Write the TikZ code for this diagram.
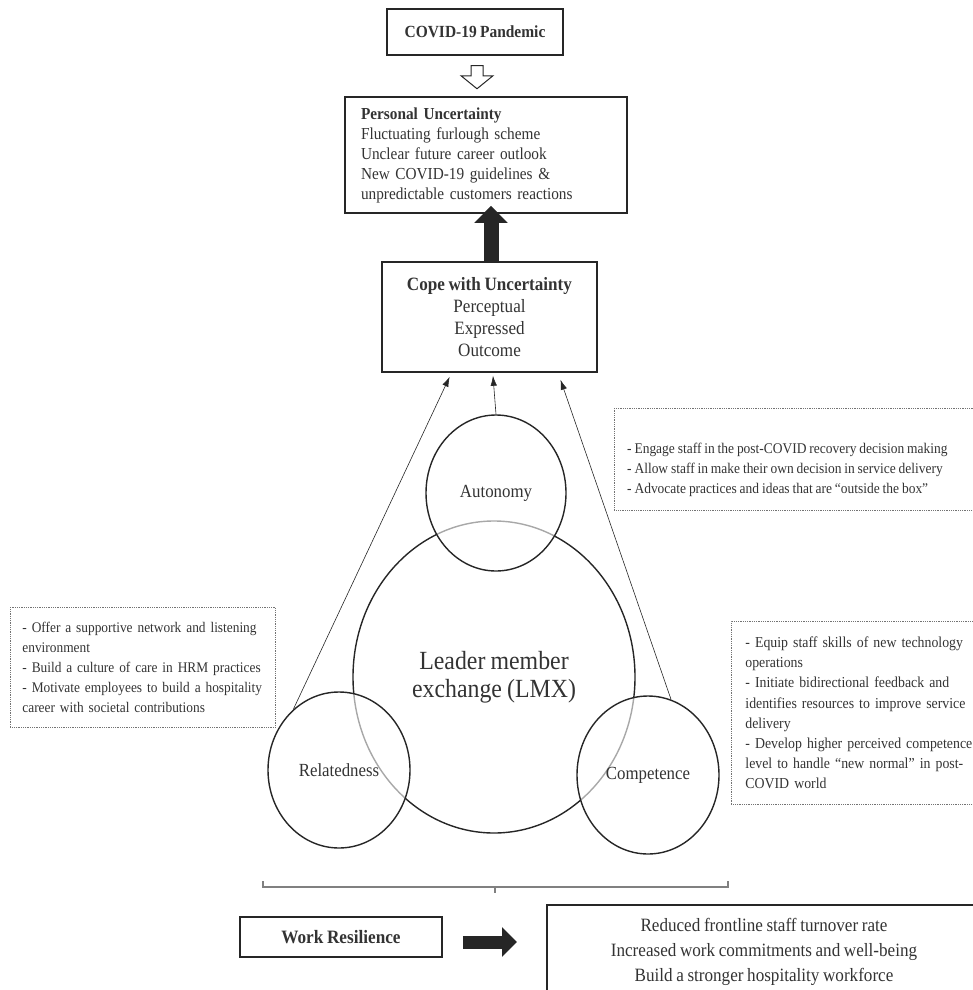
\documentclass[tikz,border=0pt]{standalone}
\usepackage{fontspec}
\setmainfont{Liberation Serif}[FakeStretch=0.91,WordSpace=0.85]
\usetikzlibrary{shapes.geometric,arrows.meta,calc}
\definecolor{ink}{HTML}{262626}
\definecolor{txt}{HTML}{333333}
\begin{document}
\begin{tikzpicture}[x=1pt,y=-1pt,
  box/.style={draw=ink, line width=1.5pt, rectangle, inner sep=0pt, text=txt},
  dotbox/.style={draw=black!55, densely dotted, line width=0.8pt, rectangle, inner ysep=0pt, align=left, text=txt, anchor=north west},
  circ/.style={ellipse, draw=ink, line width=1.4pt, inner sep=0pt, fill=white, fill opacity=0.6, text opacity=1, text=txt,
    font=\fontsize{18.5}{22}\selectfont},
  thinarrow/.style={draw=ink, line width=0.6pt, -{Latex[length=10pt,width=6.5pt]}},
]
\useasboundingbox (0,0) rectangle (972,990);

% top boxes
\node[box, minimum width=176pt, minimum height=46pt, font=\bfseries\fontsize{17}{20}\selectfont] (covid) at (475,32) {COVID-19 Pandemic};

\node[box, minimum width=282pt, minimum height=116pt, inner xsep=16pt, text width=250pt, align=left,
  font=\fontsize{16.8}{20}\selectfont] (personal) at (486,155)
  {\textbf{Personal Uncertainty}\\Fluctuating furlough scheme\\Unclear future career outlook\\New COVID-19 guidelines \&\\unpredictable customers reactions};

\node[box, minimum width=215pt, minimum height=110pt, align=center,
  font=\fontsize{18.8}{22}\selectfont] (cope) at (489.5,317)
  {\textbf{Cope with Uncertainty}\\Perceptual\\Expressed\\Outcome};

% hollow arrow
\coordinate (ha) at ($(covid.south)+(2,0)$);
\draw[draw=ink, fill=white, line width=1pt, line join=miter, shift={(ha)}]
  (-6,10) -- (6,10) -- (6,20) -- (16,20) -- (0,33) -- (-16,20) -- (-6,20) -- cycle;

% LMX and the three needs
\node[ellipse, draw=ink, line width=1.4pt, inner sep=0pt, minimum width=282pt, minimum height=312pt,
  align=center, text=txt, font=\fontsize{26.2}{28}\selectfont] (lmx) at (494,677)
  {Leader member\\exchange (LMX)};
\node[circ, minimum width=140pt, minimum height=156pt] (aut) at (496,493) {Autonomy};
\node[circ, minimum width=142pt, minimum height=156pt] (rel) at (339,770) {Relatedness};
\node[circ, minimum width=142pt, minimum height=158pt] (comp) at (648,775) {Competence};

% big black up arrow
\draw[draw=ink, line width=15pt, -{Triangle[width=32pt,length=17pt]}]
  ($(cope.north)+(1.5,0)$) -- ($(cope.north |- personal.south)+(1.5,-8)$);

% thin arrows
\draw[thinarrow] (rel.127) -- ($(cope.south west)!0.316!(cope.south east)+(0,4)$);
\draw[thinarrow] (aut.north) -- ($(cope.south west)!0.516!(cope.south east)+(0,3)$);
\draw[thinarrow] (comp.73) -- ($(cope.south west)!0.828!(cope.south east)+(0,7)$);

% dotted boxes
\node[dotbox, minimum width=420pt, minimum height=102pt] (autbox) at (614,408) {};
\node[anchor=west, inner sep=0pt, align=left, text=txt, font=\fontsize{14.8}{20}\selectfont] (auttext)
  at ($(autbox.north west)+(13,62)$)
  {- Engage staff in the post-COVID recovery decision making\\- Allow staff in make their own decision in service delivery\\- Advocate practices and ideas that are ``outside the box''};

\node[dotbox, minimum width=265pt, minimum height=120pt, inner xsep=12pt, text width=241pt,
  font=\fontsize{14.7}{19.8}\selectfont] (relbox) at (10,607)
  {- Offer a supportive network and listening\\environment\\- Build a culture of care in HRM practices\\- Motivate employees to build a hospitality\\career with societal contributions};

\node[dotbox, minimum width=300pt, minimum height=183pt, inner xsep=14pt, text width=272pt,
  font=\fontsize{15.2}{20.2}\selectfont] (compbox) at (731,621)
  {- Equip staff skills of new technology\\operations\\- Initiate bidirectional feedback and\\identifies resources to improve service\\delivery\\- Develop higher perceived competence\\level to handle ``new normal'' in post-\\COVID world};

% bracket
\draw[draw=black!50, line width=1.1pt] (263,881) -- (263,887) -- (728,887) -- (728,881);
\draw[draw=black!50, line width=1.1pt] (495,887) -- (495,893);

% bottom
\node[box, minimum width=202pt, minimum height=40pt, font=\bfseries\fontsize{18.9}{22}\selectfont] (wr) at (341,937) {Work Resilience};
\node[box, minimum width=480pt, minimum height=110pt, anchor=north west] (res) at (546,904) {};
\node[anchor=north, inner sep=0pt, align=center, text=txt, font=\fontsize{18.8}{25}\selectfont] (restext)
  at ($(res.north west)+(218,14)$)
  {Reduced frontline staff turnover rate\\Increased work commitments and well-being\\Build a stronger hospitality workforce};
\draw[draw=ink, line width=13pt, -{Triangle[width=29pt,length=15pt]}]
  ($(wr.east)+(20,5)$) -- ($(res.west |- wr.east)+(-29,5)$);
\end{tikzpicture}
\end{document}
